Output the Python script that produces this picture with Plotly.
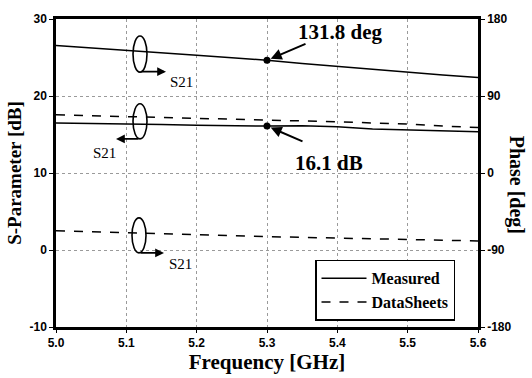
import plotly.graph_objects as go

# ---- data ----
freq = [5.0, 5.05, 5.1, 5.15, 5.2, 5.25, 5.3, 5.35, 5.4, 5.45, 5.5, 5.55, 5.6]
meas_s21_db = [16.5, 16.45, 16.4, 16.3, 16.2, 16.15, 16.1, 16.15, 16.0, 15.7, 15.6, 15.45, 15.35]
meas_s21_phase = [149.0, 146.0, 142.7, 140.0, 137.5, 134.7, 131.8, 128.0, 124.5, 121.0, 117.4, 114.5, 111.6]
ds_s21_db = [17.55, 17.45, 17.35, 17.25, 17.15, 17.0, 16.9, 16.8, 16.65, 16.5, 16.35, 16.1, 15.9]
ds_s21_phase = [-67.5, -68.5, -69.5, -70.5, -72.0, -73.2, -74.4, -75.2, -76.0, -77.0, -78.0, -78.7, -79.4]

mark_freq = [5.3]
mark_db = [16.1]
mark_phase = [131.8]

x_ticks = [5.0, 5.1, 5.2, 5.3, 5.4, 5.5, 5.6]
x_ticklabels = ["5.0", "5.1", "5.2", "5.3", "5.4", "5.5", "5.6"]
y_ticks = [-10, 0, 10, 20, 30]
y_ticklabels = ["-10", "0", "10", "20", "30"]
y2_ticks = [-180, -90, 0, 90, 180]
y2_ticklabels = ["-180", "-90", "0", "90", "180"]

W, H = 532, 378
L, R, T, B = 56, 54, 15, 47
PW, PH = W - L - R, H - T - B


def px(xp):
    return (xp - L) / PW


def py(yp):
    return (H - B - yp) / PH


SERIF = "Liberation Serif, Times New Roman, serif"
SANS = "Liberation Sans, Arial, sans-serif"

fig = go.Figure()
fig.add_trace(go.Scatter(x=freq, y=meas_s21_db, mode="lines", name="Measured",
                         line=dict(color="black", width=1.5)))
fig.add_trace(go.Scatter(x=freq, y=ds_s21_db, mode="lines", name="DataSheets",
                         line=dict(color="black", width=1.5, dash="dash")))
fig.add_trace(go.Scatter(x=freq, y=meas_s21_phase, mode="lines", yaxis="y2", showlegend=False,
                         line=dict(color="black", width=1.5)))
fig.add_trace(go.Scatter(x=freq, y=ds_s21_phase, mode="lines", yaxis="y2", showlegend=False,
                         line=dict(color="black", width=1.5, dash="dash")))
fig.add_trace(go.Scatter(x=mark_freq, y=mark_db, mode="markers", showlegend=False,
                         marker=dict(color="black", size=7)))
fig.add_trace(go.Scatter(x=mark_freq, y=mark_phase, mode="markers", yaxis="y2", showlegend=False,
                         marker=dict(color="black", size=7)))

fig.update_layout(
    width=W, height=H,
    margin=dict(l=L, r=R, t=T, b=B),
    paper_bgcolor="white", plot_bgcolor="white",
    xaxis=dict(range=[5.0, 5.6], tickvals=x_ticks, ticktext=x_ticklabels,
               showline=True, linecolor="black", linewidth=2.5, mirror=True,
               ticks="outside", ticklen=3, tickcolor="black",
               showgrid=True, gridcolor="#9a9a9a", griddash="dot", gridwidth=1,
               zeroline=False,
               tickfont=dict(family=SANS, size=12, color="black", weight="bold"),
               title=dict(text="Frequency [GHz]", standoff=1,
                          font=dict(family=SERIF, size=21, color="black", weight="bold"))),
    yaxis=dict(range=[-10, 30], tickvals=y_ticks, ticktext=y_ticklabels,
               showline=True, linecolor="black", linewidth=2.5,
               ticks="outside", ticklen=4, tickcolor="black",
               showgrid=True, gridcolor="#9a9a9a", griddash="dot", gridwidth=1,
               zeroline=False,
               tickfont=dict(family=SANS, size=12, color="black", weight="bold"),
               title=dict(text="S-Parameter [dB]", standoff=3,
                          font=dict(family=SERIF, size=19, color="black", weight="bold"))),
    yaxis2=dict(range=[-180, 180], tickvals=y2_ticks, ticktext=y2_ticklabels,
                overlaying="y", side="right",
                showline=True, linecolor="black", linewidth=2.5,
                ticks="outside", ticklen=4, tickcolor="black",
                showgrid=False, zeroline=False,
                tickfont=dict(family=SANS, size=12, color="black", weight="bold")),
    legend=dict(x=px(315), y=py(262), xanchor="left", yanchor="top",
                bgcolor="white", bordercolor="black", borderwidth=1.5,
                font=dict(family=SERIF, size=16, color="black", weight="bold"),
                itemwidth=45, tracegroupgap=0),
    showlegend=True,
)

ann = []
C = dict(xanchor="center", yanchor="middle")
# right axis title
ann.append(dict(xref="paper", yref="paper", x=px(516), y=py(185), text="Phase [deg]",
                textangle=90, showarrow=False, **C,
                font=dict(family=SERIF, size=20, color="black", weight="bold")))
# value call-outs
ann.append(dict(xref="paper", yref="paper", x=px(340), y=py(28), text="131.8 deg",
                showarrow=False, **C, font=dict(family=SERIF, size=21, color="black", weight="bold")))
ann.append(dict(xref="paper", yref="paper", x=px(329), y=py(163), text="16.1 dB",
                showarrow=False, **C, font=dict(family=SERIF, size=21, color="black", weight="bold")))
ann.append(dict(x=5.3, y=131.8, xref="x", yref="y2", text="", showarrow=True,
                ax=40, ay=-17, arrowhead=2, arrowsize=1.1, arrowwidth=2, standoff=4,
                arrowcolor="black"))
ann.append(dict(x=5.3, y=16.1, xref="x", yref="y", text="", showarrow=True,
                ax=37, ay=16, arrowhead=2, arrowsize=1.1, arrowwidth=2, standoff=4,
                arrowcolor="black"))
# ellipse arrows + S21 labels
for (hx, hy, tx, ty, lx, ly) in [(166, 69, 140, 69, 181, 80),
                                 (116, 138, 140, 138, 104, 152),
                                 (164, 255, 139, 255, 180, 266)]:
    ann.append(dict(xref="paper", yref="paper", x=px(hx), y=py(hy), text="", showarrow=True,
                    ax=tx - hx, ay=ty - hy, arrowhead=2, arrowsize=1.1, arrowwidth=1.6,
                    arrowcolor="black"))
    ann.append(dict(xref="paper", yref="paper", x=px(lx), y=py(ly), text="S21", showarrow=False,
                    **C, font=dict(family=SERIF, size=15, color="black")))
fig.update_layout(annotations=ann)

shapes = []
for (cx, cy, w, h) in [(140, 51, 14, 37), (140, 120, 14, 36), (139, 237, 14, 36)]:
    shapes.append(dict(type="circle", xref="paper", yref="paper",
                       x0=px(cx - w / 2), x1=px(cx + w / 2), y0=py(cy + h / 2), y1=py(cy - h / 2),
                       line=dict(color="black", width=1.6)))
fig.update_layout(shapes=shapes)

fig.write_html("out.html", config={"displayModeBar": False},
               post_script="document.body.style.margin='0';")
